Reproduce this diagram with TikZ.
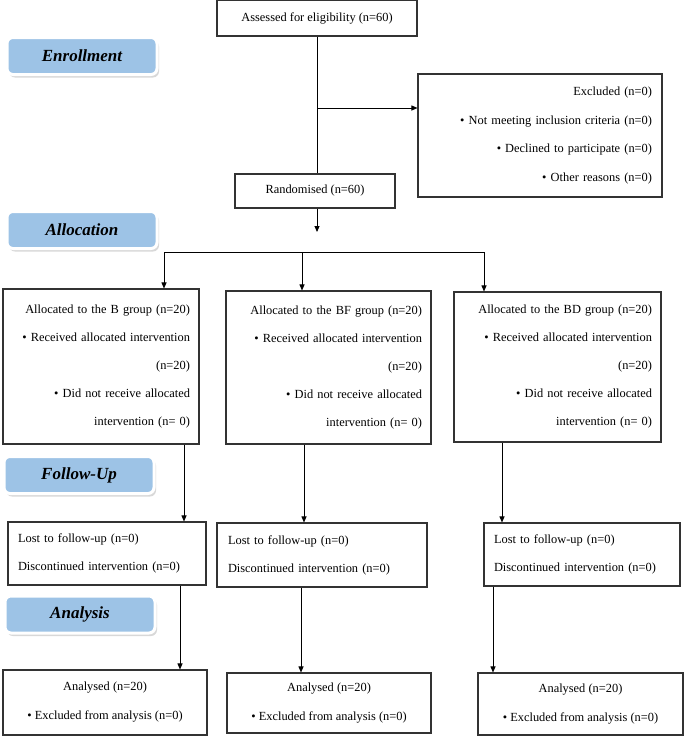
\documentclass[tikz,border=0pt]{standalone}
\usepackage{fontspec}
\setmainfont{Liberation Serif}
\usetikzlibrary{arrows.meta,positioning,shadows}
\definecolor{stageblue}{HTML}{9DC3E6}
\definecolor{boxline}{HTML}{333333}

\begin{document}
\begin{tikzpicture}[x=1pt,y={(0pt,-1pt)},
	box/.style={draw=boxline, line width=1.1pt, rectangle, inner sep=0pt, font=\fontsize{12.4}{28}\selectfont},
	stage/.style={rectangle, rounded corners=6pt, fill=stageblue, draw=white, line width=3pt,
		minimum width=150pt, minimum height=37pt, font=\fontsize{17}{20}\selectfont\bfseries\itshape,
		drop shadow={shadow xshift=2pt, shadow yshift=-3pt, fill=black!30}},
	arr/.style={-{Triangle[width=5pt,length=6pt]}, line width=0.9pt}]
	\useasboundingbox (0,0) rectangle (685,736);

	% stage labels
	\node[stage] (enrol) at (82,56) {Enrollment};
	\node[stage] (alloc) at (82,230) {Allocation};
	\node[stage] (follow) at (79,475) {Follow-Up};
	\node[stage] (analys) at (80,614.5) {Analysis};

	% enrolment
	\node[box, minimum width=200pt, minimum height=36pt] (assess) at (317,18) {Assessed for eligibility (n=60)};
	\node[box, minimum width=244pt, minimum height=123pt, text width=224pt, align=right, font=\fontsize{12.4}{28.5}\selectfont] (excl) at (540,135.5)
		{Excluded (n=0)\\ \textbullet\ Not meeting inclusion criteria (n=0)\\ \textbullet\ Declined to participate (n=0)\\ \textbullet\ Other reasons (n=0)};
	\node[box, minimum width=160pt, minimum height=34pt] (rand) at (315,191) {Randomised (n=60)};

	% allocation
	\node[box, minimum width=196pt, minimum height=155pt, text width=178pt, align=right] (allocB) at (101,366.5)
		{Allocated to the B group (n=20)\\ \textbullet\ Received allocated intervention\\ (n=20)\\ \textbullet\ Did not receive allocated\\ intervention (n= 0)};
	\node[box, minimum width=205pt, minimum height=153pt, text width=187pt, align=right] (allocBF) at (328.5,367.5)
		{Allocated to the BF group (n=20)\\ \textbullet\ Received allocated intervention\\ (n=20)\\ \textbullet\ Did not receive allocated\\ intervention (n= 0)};
	\node[box, minimum width=207pt, minimum height=150pt, text width=189pt, align=right] (allocBD) at (557.5,367)
		{Allocated to the BD group (n=20)\\ \textbullet\ Received allocated intervention\\ (n=20)\\ \textbullet\ Did not receive allocated\\ intervention (n= 0)};

	% follow-up
	\node[box, minimum width=198pt, minimum height=63pt, text width=178pt, align=left] (fuB) at (107,553.5)
		{Lost to follow-up (n=0)\\ Discontinued intervention (n=0)};
	\node[box, minimum width=210pt, minimum height=64pt, text width=188pt, align=left] (fuBF) at (322,555)
		{Lost to follow-up (n=0)\\ Discontinued intervention (n=0)};
	\node[box, minimum width=196pt, minimum height=63pt, text width=176pt, align=left] (fuBD) at (582,554.5)
		{Lost to follow-up (n=0)\\ Discontinued intervention (n=0)};

	% analysis
	\node[box, minimum width=204pt, minimum height=65pt, align=center, font=\fontsize{12.4}{29}\selectfont] (anB) at (105,702.5)
		{Analysed (n=20)\\ \textbullet\ Excluded from analysis (n=0)};
	\node[box, minimum width=204pt, minimum height=60pt, align=center, font=\fontsize{12.4}{29}\selectfont] (anBF) at (329,703)
		{Analysed (n=20)\\ \textbullet\ Excluded from analysis (n=0)};
	\node[box, minimum width=205pt, minimum height=62pt, align=center, font=\fontsize{12.4}{29}\selectfont] (anBD) at (580.5,704)
		{Analysed (n=20)\\ \textbullet\ Excluded from analysis (n=0)};

	% where the connectors bend or drop
	\coordinate (branch) at (317,108);
	\coordinate (drop) at (317,232);
	\coordinate (splitB) at (164,252);
	\coordinate (splitBF) at (302,252);
	\coordinate (splitBD) at (484,252);
	\coordinate (toFuB) at (184,0);
	\coordinate (toFuBF) at (304,0);
	\coordinate (toFuBD) at (502,0);
	\coordinate (toAnB) at (180,0);
	\coordinate (toAnBF) at (301,0);
	\coordinate (toAnBD) at (493,0);

	\draw[line width=0.9pt] (assess.south) -- (assess.south |- rand.north);
	\draw[arr] (branch) -- (branch -| excl.west);
	\draw[arr] (rand.south -| drop) -- (drop);
	\draw[line width=0.9pt] (splitB) -- (splitBD);
	\foreach \g in {B,BF,BD} {
		\draw[arr] (split\g) -- (split\g |- alloc\g.north);
		\draw[arr] (alloc\g.south -| toFu\g) -- (fu\g.north -| toFu\g);
		\draw[arr] (fu\g.south -| toAn\g) -- (an\g.north -| toAn\g);
	}
\end{tikzpicture}
\end{document}
